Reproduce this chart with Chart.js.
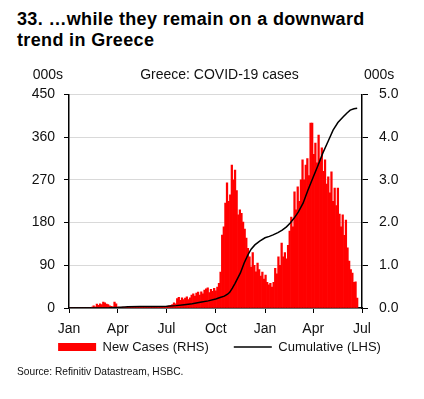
<!DOCTYPE html>
<html>
<head>
<meta charset="utf-8">
<script src="https://cdn.jsdelivr.net/npm/chart.js@4/dist/chart.umd.min.js"></script>
<style>
  body { margin: 0; width: 424px; height: 399px; background: #fff; position: relative; font-family: "Liberation Sans", Arial, sans-serif; }
  #title { position: absolute; left: 17px; top: 9px; font-weight: bold; font-size: 18px; letter-spacing: 0.35px; line-height: 21px; color: #000; }
  #chartBox { position: absolute; left: 0; top: 60px; width: 424px; height: 326px; }
  #source { position: absolute; left: 17px; top: 366px; font-size: 10.2px; color: #111; }
</style>
</head>
<body>
<div id="title">33. …while they remain on a downward<br>trend in Greece</div>
<div id="chartBox"><canvas id="greeceChart" width="424" height="326"></canvas></div>
<div id="source">Source: Refinitiv Datastream, HSBC.</div>
<script>
// x axis is days since 1 Jan 2020
const monthTickDays = [0, 91, 182, 274, 366, 456, 547];
const monthTickLabels = ['Jan', 'Apr', 'Jul', 'Oct', 'Jan', 'Apr', 'Jul'];

// New cases (000s, RHS), one bar per 3-day step starting 1 Jan 2020
const newCases = [
  0, 0, 0, 0, 0, 0, 0, 0, 0, 0,
  0, 0, 0, 0, 0.02, 0.05, 0.03, 0.09, 0.06, 0.1,
  0.08, 0.14, 0.12, 0.09, 0.08, 0.05, 0.04, 0.03, 0.14, 0.1,
  0.02, 0.02, 0.01, 0.02, 0.01, 0.01, 0.02, 0.01, 0.01, 0.01,
  0.02, 0.01, 0.01, 0.01, 0.02, 0.01, 0.01, 0.02, 0.01, 0.02,
  0.01, 0.02, 0.01, 0.02, 0.02, 0.01, 0.02, 0.03, 0.02, 0.03,
  0.03, 0.04, 0.05, 0.06, 0.08, 0.12, 0.1, 0.22, 0.25, 0.18,
  0.24, 0.2, 0.23, 0.26, 0.2, 0.24, 0.3, 0.33, 0.28, 0.35,
  0.37, 0.3, 0.38, 0.33, 0.42, 0.45, 0.47, 0.36, 0.44, 0.39,
  0.46, 0.4, 0.49, 0.58, 0.84, 1.71, 1.9, 2.46, 2.93, 2.5,
  2.65, 3.35, 3.0, 3.23, 2.75, 2.18, 2.3, 2.22, 2.01, 1.85,
  1.64, 1.4, 1.2, 0.96, 1.3, 1.0, 0.85, 1.05, 0.9, 0.75,
  0.84, 0.68, 0.77, 0.6, 0.54, 0.58, 0.49, 0.6, 0.93, 0.8,
  1.2, 1.0, 1.52, 1.2, 1.3, 1.15, 1.47, 1.8, 2.13, 1.9,
  2.72, 2.3, 2.84, 2.5, 3.0, 3.47, 3.0, 3.35, 3.5, 3.1,
  4.33, 4.33, 3.6, 3.86, 3.4, 4.05, 3.5, 3.75, 3.2, 3.47,
  2.9, 3.07, 2.7, 3.19, 2.5, 2.81, 2.4, 2.81, 2.2, 1.9,
  2.18, 1.7, 2.06, 1.41, 1.1, 0.9, 0.82, 0.6, 0.61, 0.23
];
const barStartDay = 1;
const barStepDays = 3;

// Cumulative cases (000s, LHS)
const cumDays = [0, 50, 75, 91, 110, 133, 160, 182, 200, 215, 230, 245, 260, 274, 282, 290, 296, 300, 305, 310,
  315, 320, 327, 334, 340, 347, 356, 366, 374, 381, 390, 398, 406, 413, 420, 428, 437, 446, 456, 465,
  474, 484, 493, 502, 512, 519, 525, 532, 538];
const cumCases = [0, 0, 0.5, 1.3, 2.5, 2.9, 3.3, 3.5, 5, 7, 9, 12, 15, 19, 22, 25, 29, 33, 42, 52,
  63, 74, 95, 112, 124, 133, 141, 148, 151, 154, 159, 164, 171, 179, 189, 202, 221, 248, 276, 301,
  327, 352, 375, 391, 403, 411, 417, 420, 421];

const FONT = '"Liberation Sans", Arial, sans-serif';
const TXT = '#111';

const barPoints = newCases.map((v, i) => ({ x: barStartDay + i * barStepDays, y: v }));
const linePoints = cumDays.map((d, i) => ({ x: d, y: cumCases[i] }));

// "000s" above both value axes, and pull the legend up under the month labels
const unitLabels = {
  id: 'unitLabels',
  afterLayout(chart) {
    chart.legend.top -= 22.5;
    chart.legend.bottom -= 22.5;
  },
  afterDraw(chart) {
    const { ctx, chartArea } = chart;
    ctx.save();
    ctx.font = '14px ' + FONT;
    ctx.fillStyle = TXT;
    ctx.textBaseline = 'middle';
    ctx.textAlign = 'right';
    ctx.fillText('000s', chartArea.left - 6, 15);
    ctx.textAlign = 'left';
    ctx.fillText('000s', chartArea.right + 2, 15);
    ctx.restore();
  }
};

new Chart(document.getElementById('greeceChart'), {
  data: {
    datasets: [
      {
        type: 'bar',
        label: 'New Cases (RHS)',
        data: barPoints,
        yAxisID: 'y1',
        backgroundColor: '#ff0000',
        borderWidth: 0,
        barPercentage: 1,
        categoryPercentage: 1,
        order: 2
      },
      {
        type: 'line',
        label: 'Cumulative (LHS)',
        data: linePoints,
        yAxisID: 'y',
        borderColor: '#000',
        borderWidth: 1.5,
        pointRadius: 0,
        tension: 0,
        order: 1
      }
    ]
  },
  options: {
    responsive: false,
    animation: false,
    devicePixelRatio: 1,
    layout: { padding: { left: 15, right: 0, top: 0, bottom: 0 } },
    plugins: {
      tooltip: { enabled: false },
      title: {
        display: true,
        text: 'Greece: COVID-19 cases',
        color: TXT,
        font: { family: FONT, size: 14, weight: 'normal' },
        padding: { top: 6.6, bottom: 11.1 }
      },
      legend: {
        position: 'bottom',
        labels: {
          color: TXT,
          font: { family: FONT, size: 13 },
          usePointStyle: true,
          pointStyleWidth: 38,
          boxHeight: 8,
          padding: 25,
          generateLabels: () => [
            { text: 'New Cases (RHS)', fillStyle: '#ff0000', strokeStyle: '#ff0000', lineWidth: 0, pointStyle: 'rect', datasetIndex: 0, fontColor: TXT },
            { text: 'Cumulative (LHS)', fillStyle: '#000', strokeStyle: '#000', lineWidth: 1.5, pointStyle: 'line', datasetIndex: 1, fontColor: TXT }
          ]
        }
      }
    },
    scales: {
      x: {
        type: 'linear',
        min: 0,
        max: 547,
        offset: false,
        afterBuildTicks: s => { s.ticks = monthTickDays.map(v => ({ value: v })); },
        afterFit: s => { s.height = 30; },
        ticks: {
          autoSkip: false,
          maxRotation: 0,
          padding: 8,
          color: TXT,
          font: { family: FONT, size: 14 },
          callback: v => monthTickLabels[monthTickDays.indexOf(v)]
        },
        grid: { drawOnChartArea: false, offset: false, tickLength: 5, tickColor: '#000' },
        border: { color: '#000', width: 1.5 }
      },
      y: {
        position: 'left',
        min: 0,
        max: 450,
        afterFit: s => { s.width = 54; },
        ticks: { stepSize: 90, padding: 9, color: TXT, font: { family: FONT, size: 14 } },
        grid: { color: '#d9d9d9', lineWidth: 1, tickLength: 5, tickColor: '#000' },
        border: { color: '#000', width: 1.5 }
      },
      y1: {
        position: 'right',
        min: 0,
        max: 5,
        afterFit: s => { s.width = 62; },
        ticks: { stepSize: 1, padding: 11, color: TXT, font: { family: FONT, size: 14 }, callback: v => v.toFixed(1) },
        grid: { drawOnChartArea: false, tickLength: 6, tickColor: '#000' },
        border: { color: '#000', width: 1.5 }
      }
    }
  },
  plugins: [unitLabels]
});
</script>
</body>
</html>
